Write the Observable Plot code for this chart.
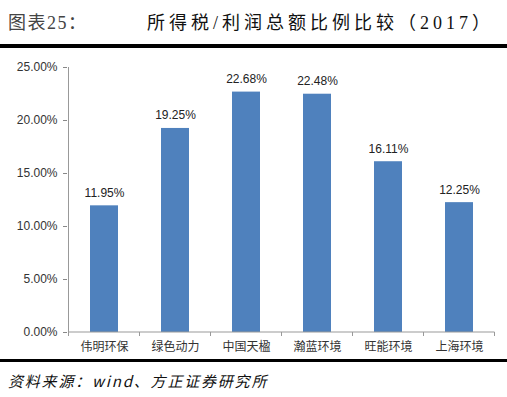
<!DOCTYPE html>
<html><head><meta charset="utf-8">
<script src="https://cdn.jsdelivr.net/npm/d3@7"></script>
<script src="https://cdn.jsdelivr.net/npm/@observablehq/plot@0.6"></script>
<style>
body{margin:0;background:#fff;width:507px;height:397px;position:relative;overflow:hidden;font-family:"Noto Sans CJK SC",sans-serif;}
#t1{position:absolute;left:8px;top:10px;font-family:"Liberation Serif","Noto Sans CJK SC",serif;font-size:18px;color:#444;line-height:26px;letter-spacing:1.5px;}
#t2{position:absolute;left:147px;top:10px;font-family:"Liberation Serif","Noto Sans CJK SC",serif;font-size:18px;color:#111;line-height:26px;letter-spacing:4px;white-space:nowrap;}
#l1{position:absolute;left:0;top:44px;width:507px;height:4px;background:#000;}
#chart{position:absolute;left:0;top:50px;}
#l2{position:absolute;left:0;top:359px;width:507px;height:3px;background:#000;}
#cap{position:absolute;left:8px;top:369px;font-size:15px;font-style:italic;color:#111;line-height:24px;letter-spacing:1.8px;}
</style></head>
<body>
<div id="t1">图表25：</div>
<div id="t2">所得税/利润总额比例比较（2017）</div>
<div id="l1"></div>
<div id="chart"></div>
<div id="l2"></div>
<div id="cap">资料来源：wind、方正证券研究所</div>
<script>
const categories = ["伟明环保","绿色动力","中国天楹","瀚蓝环境","旺能环境","上海环境"];
const values = [11.95, 19.25, 22.68, 22.48, 16.11, 12.25];
const yTicks = [0, 5, 10, 15, 20, 25];
const data = categories.map((c, i) => ({name: c, v: values[i]}));

const chart = Plot.plot({
  width: 507, height: 310,
  marginLeft: 67, marginRight: 12, marginTop: 17, marginBottom: 28,
  style: {fontFamily: "Liberation Sans, Arial, sans-serif", fontSize: "12px", color: "#222", background: "transparent"},
  x: {domain: categories, paddingInner: 0.61, paddingOuter: 0.305, label: null},
  y: {domain: [0, 25], ticks: yTicks, label: null},
  marks: [
    Plot.barY(data, {x: "name", y: "v", fill: "#4F81BD"}),
    Plot.text(data, {x: "name", y: "v", text: d => d.v.toFixed(2) + "%", dy: -9, lineAnchor: "bottom", fill: "#222", fontSize: 12}),
    Plot.axisY({ticks: yTicks, tickFormat: d => d.toFixed(2) + "%", tickSize: 4, tickPadding: 6, stroke: "#888", fill: "#333", fontSize: 12}),
    Plot.axisX({tickSize: 0, tickPadding: 10, fontFamily: "Noto Sans CJK SC, sans-serif", fontSize: 12, fill: "#333"})
  ]
});
document.getElementById("chart").appendChild(chart);

// y-axis line, baseline and x boundary ticks through the scales
const xs = chart.scale("x"), ys = chart.scale("y");
const svg = d3.select(chart);
const step = xs.step, bw = xs.bandwidth;
const bounds = categories.map(c => xs.apply(c) + bw / 2 - step / 2);
bounds.push(xs.apply(categories[categories.length - 1]) + bw / 2 + step / 2);
const y0 = ys.apply(0), yTop = ys.apply(25);
svg.append("line").attr("x1", bounds[0]).attr("x2", bounds[0]).attr("y1", yTop).attr("y2", y0).attr("stroke", "#999");
svg.append("line").attr("x1", bounds[0]).attr("x2", bounds[bounds.length-1]).attr("y1", y0).attr("y2", y0).attr("stroke", "#999");
bounds.forEach(b => svg.append("line").attr("x1", b).attr("x2", b).attr("y1", y0).attr("y2", y0 + 4).attr("stroke", "#999"));
</script>
</body></html>
